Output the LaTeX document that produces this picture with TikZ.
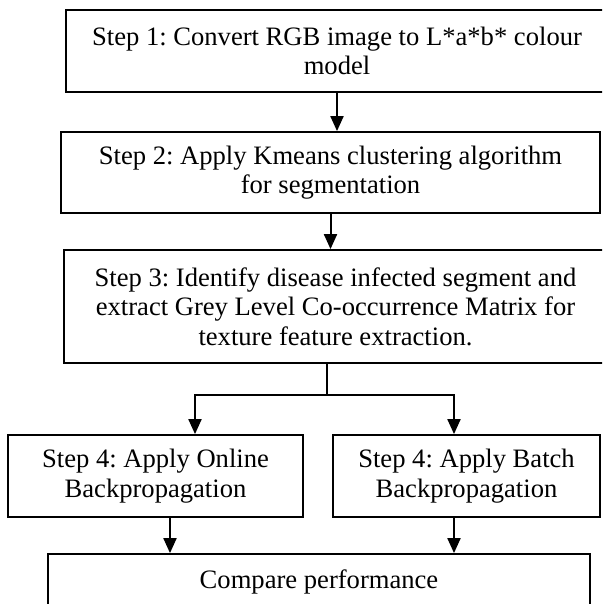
\documentclass[tikz,border=0pt]{standalone}
\usepackage{fontspec}
\setmainfont{Liberation Serif}
\usepackage{tikz}
\usetikzlibrary{arrows.meta,positioning}
\frenchspacing

\begin{document}
\begin{tikzpicture}[x=0.5pt, y=-0.5pt,
        stepbox/.style={draw, rectangle, line width=0.9pt, inner sep=0pt, align=center,
            font=\fontsize{13.3}{14.8}\selectfont},
        flow/.style={-{Triangle[length=7.5pt, width=6.5pt]}, line width=1pt}]
        \clip (0,0) rectangle (602,604);

        \node[stepbox, minimum width=271pt, minimum height=41pt] (s1) at (337,51)
            {Step 1: Convert RGB image to L*a*b* colour\\model};
        \node[stepbox, minimum width=269.5pt, minimum height=40.5pt] (s2) at (330.5,172.5)
            {Step 2: Apply Kmeans clustering algorithm\\for segmentation};
        \node[stepbox, minimum width=271.5pt, minimum height=56.5pt] (s3) at (335.5,306.5)
            {Step 3: Identify disease infected segment and\\extract Grey Level Co-occurrence Matrix for\\texture feature extraction.};
        \node[stepbox, minimum width=147.5pt, minimum height=41pt] (online) at (155.5,476)
            {Step 4: Apply Online\\Backpropagation};
        \node[stepbox, minimum width=133.5pt, minimum height=41pt] (batch) at (466.5,476)
            {Step 4: Apply Batch\\Backpropagation};
        \node[stepbox, minimum width=271pt, minimum height=28pt] (cmp) at (319,582)
            {Compare performance};
        \coordinate (fork) at (327,395);

        \draw[flow] (s1.south) -- (s1.south |- s2.north);
        \draw[flow] (s2.south) -- (s2.south |- s3.north);
        \draw[line width=1pt] (fork |- s3.south) -- (fork);
        \draw[flow] (fork) -| ([xshift=19.75pt]online.north);
        \draw[flow] (fork) -| ([xshift=-6.25pt]batch.north);
        \draw[flow] ([xshift=7.25pt]online.south) -- ([xshift=7.25pt]online.south |- cmp.north);
        \draw[flow] ([xshift=-6.25pt]batch.south) -- ([xshift=-6.25pt]batch.south |- cmp.north);
    \end{tikzpicture}
\end{document}
